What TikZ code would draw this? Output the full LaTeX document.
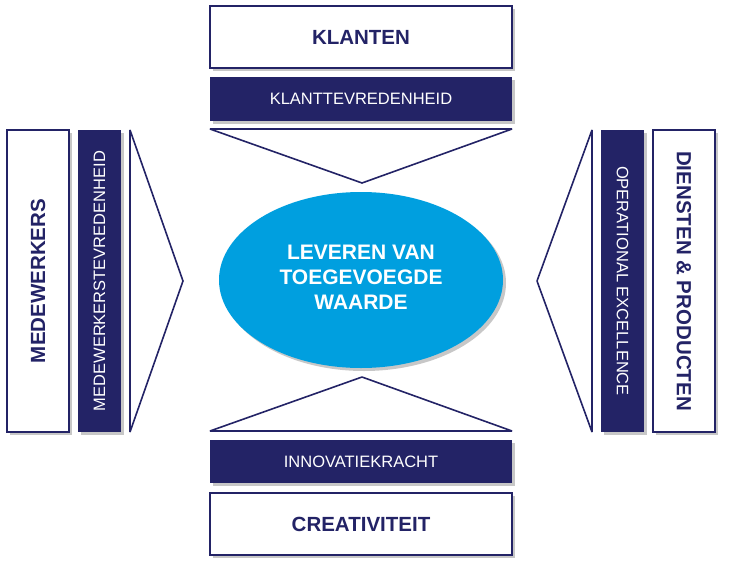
\documentclass[tikz,border=0pt]{standalone}
\usepackage{fontspec}
\setmainfont{Liberation Sans}
\usetikzlibrary{shadows}
\definecolor{navy}{RGB}{35,35,102}
\definecolor{sky}{RGB}{0,159,223}
\tikzset{
  shd/.style={drop shadow={shadow xshift=2.5pt,shadow yshift=-2.5pt,fill=black,opacity=0.22}},
  whitebox/.style={shd,draw=navy,line width=2.2pt,fill=white,text=navy,font=\fontsize{20.5}{24}\selectfont\bfseries,inner sep=0pt},
  darkbar/.style={shd,fill=navy,text=white,font=\fontsize{16.5}{19}\selectfont,inner sep=0pt},
  tri/.style={draw=navy,line width=1.6pt,fill=white,line join=bevel},
}
\begin{document}
\begin{tikzpicture}[x=1pt,y=-1pt]
\useasboundingbox (0,0) rectangle (729,568);
% top
\node[whitebox,minimum width=302pt,minimum height=62pt] (klanten) at (361,37) {KLANTEN};
\node[darkbar,minimum width=302pt,minimum height=44pt] (ktv) at (361,99) {KLANTTEVREDENHEID};
\draw[tri] (210,129) -- (512,129) -- (362,183) -- cycle;
% bottom
\draw[tri] (210,431) -- (512,431) -- (362,377) -- cycle;
\node[darkbar,minimum width=302pt,minimum height=43pt] (innov) at (361,461.5) {INNOVATIEKRACHT};
\node[whitebox,minimum width=302pt,minimum height=62pt] (creat) at (361,524) {CREATIVITEIT};
% left
\node[whitebox,minimum width=62pt,minimum height=302pt] (medew) at (38,281) {};
\node[rotate=90,text=navy,font=\fontsize{20.5}{24}\selectfont\bfseries] (medewt) at (medew.center) {MEDEWERKERS};
\node[darkbar,minimum width=43pt,minimum height=302pt] (mtv) at (99.5,281) {};
\node[rotate=90,text=white,font=\fontsize{16.5}{19}\selectfont] (mtvt) at (mtv.center) {MEDEWERKERSTEVREDENHEID};
\draw[tri] (130,130) -- (130,432) -- (183,281) -- cycle;
% right
\draw[tri] (592,130) -- (592,432) -- (537,281) -- cycle;
\node[darkbar,minimum width=43pt,minimum height=302pt] (opex) at (622.5,281) {};
\node[rotate=-90,text=white,font=\fontsize{16.5}{19}\selectfont] (opext) at (opex.center) {OPERATIONAL EXCELLENCE};
\node[whitebox,minimum width=62pt,minimum height=302pt] (dienst) at (684,281) {};
\node[rotate=-90,text=navy,font=\fontsize{20.5}{24}\selectfont\bfseries] (dienstt) at (dienst.center) {DIENSTEN \& PRODUCTEN};
% center ellipse
\fill[black,opacity=0.22] (364,283) ellipse [x radius=142pt,y radius=88pt];
\fill[sky] (361,280) ellipse [x radius=142pt,y radius=88pt];
\node[text=white,font=\fontsize{21}{25}\selectfont\bfseries,align=center] (core) at (361,277) {LEVEREN VAN\\TOEGEVOEGDE\\WAARDE};
\end{tikzpicture}
\end{document}
